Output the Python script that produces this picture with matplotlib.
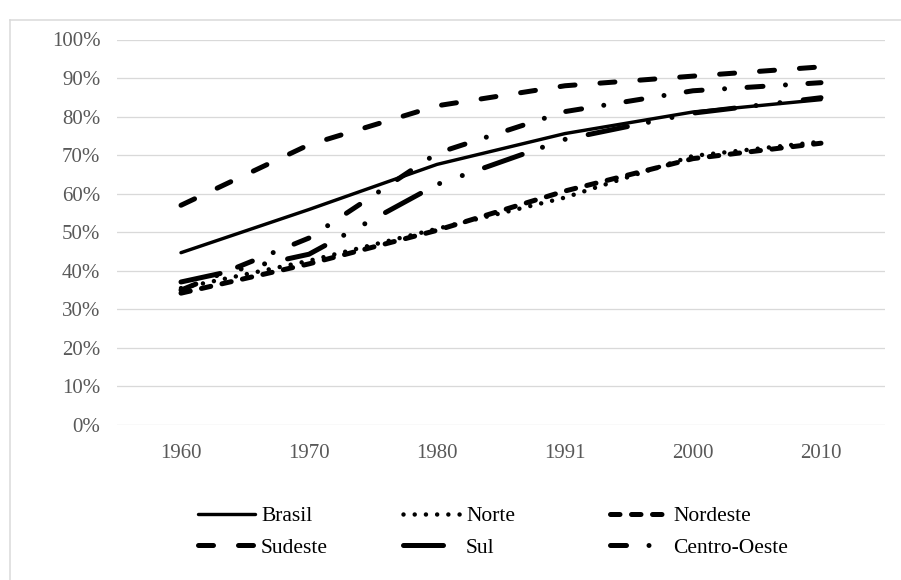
import matplotlib
matplotlib.use("Agg")
import matplotlib.pyplot as plt
from matplotlib.lines import Line2D
from matplotlib.ticker import FuncFormatter

plt.rcParams['font.family'] = ['Liberation Serif', 'DejaVu Serif']
plt.rcParams['lines.scale_dashes'] = False

years = ['1960', '1970', '1980', '1991', '2000', '2010']
brasil = [44.7, 55.9, 67.6, 75.6, 81.2, 84.4]
norte = [35.5, 42.6, 50.9, 59.0, 69.8, 73.5]
nordeste = [34.2, 41.8, 50.5, 60.7, 69.1, 73.1]
sudeste = [57.0, 72.7, 82.8, 88.0, 90.5, 92.9]
sul = [37.1, 44.3, 62.4, 74.1, 80.9, 84.9]
centro_oeste = [35.0, 48.5, 70.5, 81.3, 86.7, 88.8]
yticks = [0, 10, 20, 30, 40, 50, 60, 70, 80, 90, 100]

W, H = 901, 580
fig = plt.figure(figsize=(W / 100, H / 100), dpi=100)
px = 0.72  # points per pixel

ax = fig.add_axes([117 / W, 1 - 425 / H, (885 - 117) / W, (425 - 39.5) / H])
x = list(range(len(years)))

styles = {
    'Brasil': dict(lw=3.4 * px, ls='-', solid_capstyle='round'),
    'Norte': dict(lw=4.5 * px, ls=(0, (0.01, 11.2 * px)), dash_capstyle='round'),
    'Nordeste': dict(lw=5 * px, ls=(0, (9.5 * px, 11.5 * px)), dash_capstyle='round'),
    'Sudeste': dict(lw=5 * px, ls=(0, (15 * px, 25 * px)), dash_capstyle='round'),
    'Sul': dict(lw=5 * px, ls=(0, (40 * px, 21.5 * px, 0.01, 24 * px, 0.01, 23.5 * px)), dash_capstyle='round'),
    'Centro-Oeste': dict(lw=5 * px, ls=(0, (16 * px, 22.5 * px, 0.01, 22.5 * px)), dash_capstyle='round'),
}
series = {
    'Brasil': brasil, 'Norte': norte, 'Nordeste': nordeste,
    'Sudeste': sudeste, 'Sul': sul, 'Centro-Oeste': centro_oeste,
}

handles = {}
for name, vals in series.items():
    ln, = ax.plot(x, vals, color='black', label=name, zorder=3, **styles[name])
    handles[name] = ln

ax.set_xlim(-0.5, len(years) - 0.5)
ax.set_ylim(0, 100)
ax.set_yticks(yticks)
ax.yaxis.set_major_formatter(FuncFormatter(lambda v, p: f"{int(v)}%"))
ax.set_xticks(x)
ax.set_xticklabels(years)
ax.grid(axis='y', color='#d9d9d9', lw=1.3 * px, zorder=0)
ax.set_axisbelow(True)
for s in ax.spines.values():
    s.set_visible(False)
ax.tick_params(axis='both', length=0, labelsize=15, labelcolor='#595959')
ax.tick_params(axis='y', pad=12)
ax.tick_params(axis='x', pad=14)

# legend: three columns, each its own legend
cols = [(['Brasil', 'Sudeste'], 198), (['Norte', 'Sul'], 403), (['Nordeste', 'Centro-Oeste'], 610)]
fs = 15.5
for names, xl in cols:
    fig.legend([handles[n] for n in names], names, loc='upper left',
               bbox_to_anchor=(xl / W, 1 - 506 / H), frameon=False,
               fontsize=fs, handlelength=57 * px / fs, handletextpad=6 * px / fs,
               borderpad=0, borderaxespad=0, labelspacing=0.55)

# outer chart border (left and top)
fig.add_artist(Line2D([10 / W, 10 / W], [0, 1 - 20 / H], color='#d9d9d9', lw=1.5 * px, transform=fig.transFigure))
fig.add_artist(Line2D([10 / W, 1], [1 - 20 / H, 1 - 20 / H], color='#d9d9d9', lw=1.5 * px, transform=fig.transFigure))

fig.savefig('out.png', dpi=100)
